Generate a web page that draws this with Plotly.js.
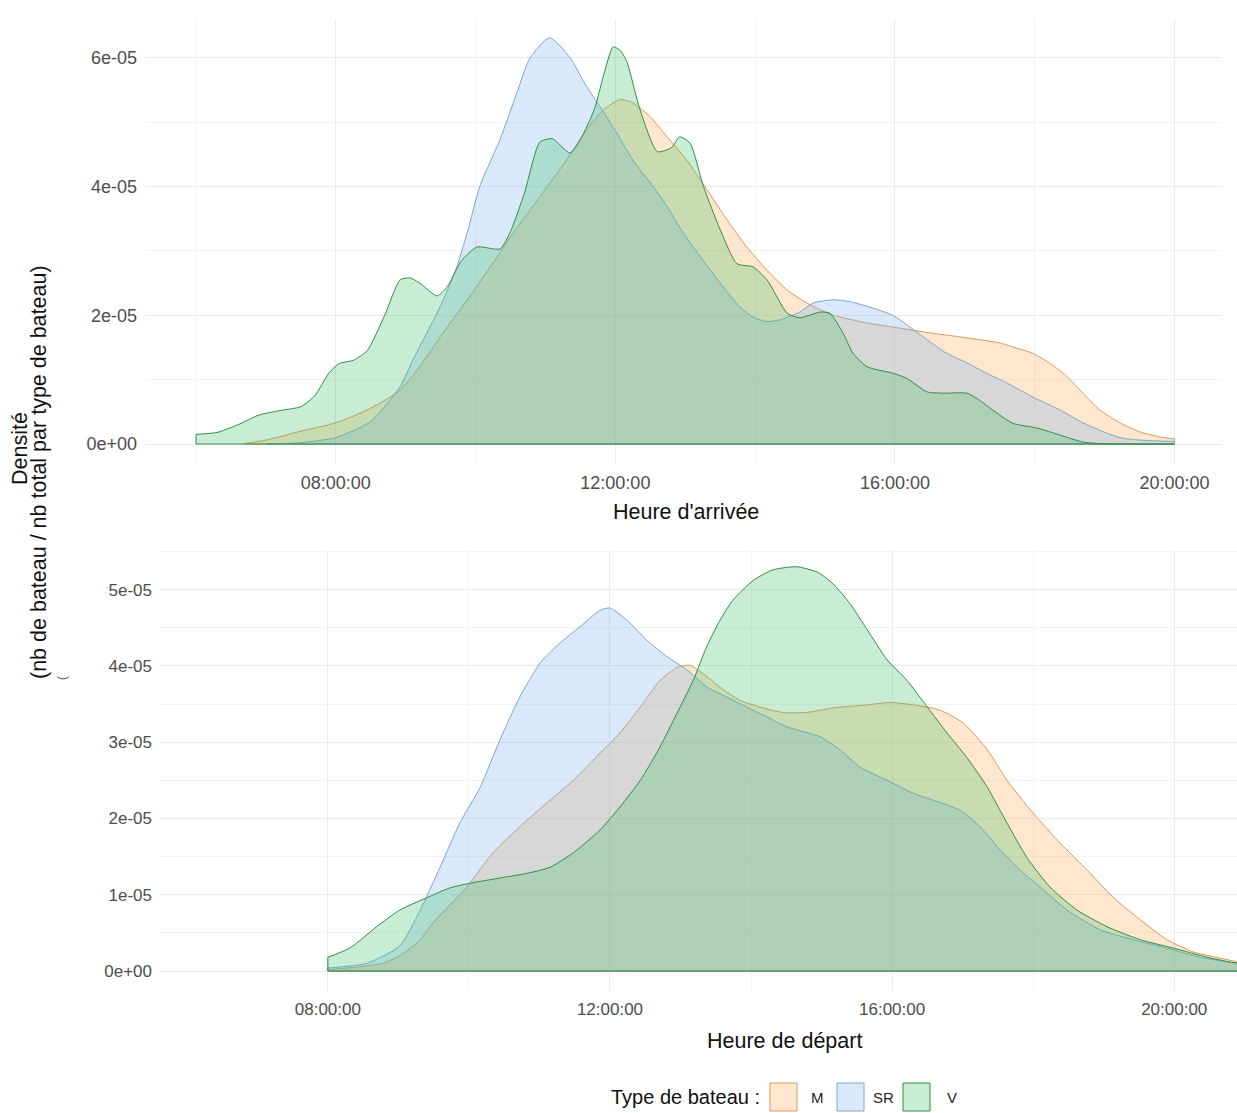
<!DOCTYPE html>
<html>
<head>
<meta charset="utf-8">
<script src="https://cdn.plot.ly/plotly-3.0.1.min.js"></script>
<style>html,body{margin:0;padding:0;background:#fff;}#chart{width:1237px;height:1113px;}</style>
</head>
<body>
<div id="chart"></div>
<script>
// ---------- DATA (hours of day ; density in units of 1e-5) ----------
const boatTypes = ["M", "SR", "V"];

// Heure d'arrivée (top panel)
const arrHours_M = [6.7, 7.0, 7.5, 8.0, 8.45, 8.9, 9.2, 9.53, 9.88, 10.21, 10.54, 10.92, 11.3, 11.59, 11.83, 12.07, 12.25, 12.5, 12.74, 13.02, 13.31, 13.6, 13.88, 14.17, 14.46, 14.74, 15.12, 15.6, 16.07, 16.54, 17.03, 17.5, 17.74, 17.97, 18.21, 18.46, 18.69, 18.93, 19.22, 19.5, 19.79, 20.0];
const arrDens_M  = [0.01, 0.06, 0.2, 0.33, 0.53, 0.82, 1.2, 1.72, 2.24, 2.75, 3.28, 3.84, 4.41, 4.88, 5.19, 5.35, 5.3, 5.08, 4.77, 4.41, 3.95, 3.48, 3.06, 2.7, 2.39, 2.19, 2.0, 1.88, 1.8, 1.72, 1.65, 1.57, 1.49, 1.41, 1.26, 1.05, 0.79, 0.53, 0.33, 0.19, 0.11, 0.08];

const arrHours_SR = [7.0, 7.5, 8.0, 8.5, 8.92, 9.1, 9.3, 9.54, 9.73, 9.88, 10.06, 10.35, 10.59, 10.78, 11.06, 11.35, 11.59, 11.78, 12.02, 12.25, 12.54, 12.74, 12.97, 13.21, 13.5, 13.78, 13.97, 14.17, 14.36, 14.64, 14.83, 15.12, 15.36, 15.69, 15.97, 16.21, 16.46, 16.74, 17.03, 17.31, 17.6, 17.97, 18.36, 18.69, 19.03, 19.22, 19.4, 19.7, 20.0];
const arrDens_SR  = [0.0, 0.02, 0.1, 0.35, 0.89, 1.3, 1.72, 2.24, 2.75, 3.28, 4.0, 4.73, 5.45, 6.0, 6.31, 6.0, 5.55, 5.24, 4.83, 4.41, 4.0, 3.69, 3.28, 2.92, 2.5, 2.13, 1.97, 1.9, 1.93, 2.05, 2.19, 2.24, 2.21, 2.11, 2.0, 1.82, 1.62, 1.41, 1.26, 1.1, 0.95, 0.73, 0.53, 0.33, 0.17, 0.1, 0.07, 0.05, 0.04];

const arrHours_V = [6.0, 6.3, 6.6, 6.9, 7.2, 7.5, 7.7, 7.9, 8.05, 8.25, 8.45, 8.7, 8.92, 9.06, 9.2, 9.45, 9.6, 9.8, 10.02, 10.35, 10.5, 10.7, 10.92, 11.1, 11.35, 11.5, 11.7, 11.85, 11.97, 12.08, 12.17, 12.35, 12.6, 12.8, 12.92, 13.07, 13.26, 13.5, 13.74, 13.97, 14.17, 14.46, 14.64, 14.93, 15.07, 15.26, 15.4, 15.6, 15.97, 16.17, 16.46, 16.69, 17.03, 17.17, 17.46, 17.69, 18.03, 18.36, 18.69, 18.89, 19.1, 20.0];
const arrDens_V  = [0.15, 0.18, 0.3, 0.45, 0.52, 0.58, 0.75, 1.1, 1.25, 1.3, 1.45, 2.0, 2.55, 2.58, 2.5, 2.3, 2.45, 2.85, 3.06, 3.03, 3.3, 3.9, 4.69, 4.74, 4.52, 4.73, 5.2, 5.8, 6.17, 6.1, 5.92, 5.2, 4.54, 4.6, 4.77, 4.67, 4.0, 3.33, 2.8, 2.75, 2.55, 2.03, 1.96, 2.05, 2.03, 1.72, 1.41, 1.2, 1.1, 1.02, 0.81, 0.79, 0.79, 0.71, 0.48, 0.32, 0.25, 0.14, 0.03, 0.01, 0.0, 0.0];

// Heure de départ (bottom panel)
const depHours_M = [8.0, 8.4, 8.78, 9.02, 9.3, 9.49, 9.97, 10.34, 10.72, 11.1, 11.48, 11.86, 12.14, 12.43, 12.71, 12.95, 13.13, 13.32, 13.56, 13.84, 14.13, 14.45, 14.79, 15.16, 15.65, 15.97, 16.3, 16.68, 17.01, 17.35, 17.63, 18.0, 18.38, 18.77, 19.13, 19.52, 19.9, 20.27, 20.65, 20.9, 21.3];
const depDens_M  = [0.02, 0.05, 0.1, 0.2, 0.4, 0.63, 1.1, 1.55, 1.89, 2.2, 2.5, 2.86, 3.12, 3.46, 3.81, 3.98, 4.01, 3.9, 3.72, 3.55, 3.46, 3.39, 3.39, 3.45, 3.49, 3.52, 3.49, 3.42, 3.25, 2.9, 2.5, 2.07, 1.68, 1.32, 0.97, 0.67, 0.41, 0.25, 0.17, 0.12, 0.08];

const depHours_SR = [8.0, 8.55, 9.02, 9.3, 9.59, 9.87, 10.16, 10.44, 10.72, 11.01, 11.29, 11.57, 11.86, 12.0, 12.24, 12.52, 12.81, 13.09, 13.38, 13.66, 13.94, 14.23, 14.51, 14.7, 14.98, 15.26, 15.55, 15.93, 16.3, 16.68, 16.96, 17.25, 17.53, 17.82, 18.1, 18.48, 18.95, 19.42, 19.9, 20.37, 20.9, 21.3];
const depDens_SR  = [0.04, 0.1, 0.33, 0.78, 1.36, 1.94, 2.41, 3.03, 3.59, 4.04, 4.3, 4.51, 4.73, 4.76, 4.6, 4.34, 4.12, 3.95, 3.72, 3.59, 3.46, 3.33, 3.2, 3.15, 3.07, 2.9, 2.67, 2.5, 2.33, 2.21, 2.11, 1.89, 1.59, 1.32, 1.1, 0.8, 0.54, 0.41, 0.3, 0.18, 0.1, 0.06];

const depHours_V = [8.0, 8.31, 8.69, 9.02, 9.4, 9.73, 10.01, 10.44, 10.82, 11.15, 11.48, 11.86, 12.14, 12.43, 12.71, 12.95, 13.18, 13.37, 13.56, 13.74, 14.03, 14.31, 14.65, 14.94, 15.16, 15.4, 15.65, 15.93, 16.21, 16.5, 16.78, 17.06, 17.35, 17.63, 17.91, 18.24, 18.62, 19.05, 19.52, 19.99, 20.47, 20.9, 21.3];
const depDens_V  = [0.18, 0.3, 0.58, 0.8, 0.96, 1.09, 1.15, 1.22, 1.28, 1.36, 1.55, 1.85, 2.15, 2.5, 2.94, 3.38, 3.81, 4.25, 4.6, 4.86, 5.12, 5.26, 5.3, 5.23, 5.08, 4.82, 4.47, 4.08, 3.81, 3.46, 3.12, 2.8, 2.41, 1.94, 1.49, 1.1, 0.8, 0.58, 0.41, 0.3, 0.18, 0.1, 0.06];

const densityUnit = 1e-5;
const yTicksTop = [0, 2e-5, 4e-5, 6e-5];
const yTickTextTop = ["0e+00", "2e-05", "4e-05", "6e-05"];
const yTicksBottom = [0, 1e-5, 2e-5, 3e-5, 4e-5, 5e-5];
const yTickTextBottom = ["0e+00", "1e-05", "2e-05", "3e-05", "4e-05", "5e-05"];
const xMinorTop = [6, 10, 14, 18];
const xMinorBottom = [10, 14, 18];

// ---------- STYLE ----------
const W = 1237, H = 1113;
const FONT = "Liberation Sans, Arial, Helvetica, sans-serif";
const fillColors = {M: "rgba(252,172,95,0.30)", SR: "rgba(118,175,236,0.28)", V: "rgba(62,190,100,0.28)"};
const lineColors = {M: "#d99a5c", SR: "#7fa6cc", V: "#2f8f43"};

const px = x => x / W;
const py = y => 1 - y / H;
const hToDate = h => new Date(Date.UTC(2000, 0, 1) + Math.round(h * 3600000)).toISOString().replace("T", " ").slice(0, 19);

function densityTraces(hours, dens, type, xa, ya) {
  const xs = hours.map(hToDate);
  const ys = dens.map(v => v * densityUnit);
  const n = xs.length;
  const area = {
    type: "scatter", mode: "lines", x: xs, y: ys, xaxis: xa, yaxis: ya,
    fill: "tozeroy", fillcolor: fillColors[type],
    line: {color: lineColors[type], width: 1, shape: "spline", smoothing: 0.6},
    name: type, showlegend: false, hoverinfo: "skip"
  };
  // end edges and baseline of the density outline
  const edges = {
    type: "scatter", mode: "lines", xaxis: xa, yaxis: ya,
    x: [xs[0], xs[0], null, xs[n - 1], xs[n - 1], null, xs[0], xs[n - 1]],
    y: [0, ys[0], null, ys[n - 1], 0, null, 0, 0],
    line: {color: lineColors[type], width: 1}, connectgaps: false,
    showlegend: false, hoverinfo: "skip"
  };
  return [area, edges];
}

const traces = [].concat(
  densityTraces(arrHours_M, arrDens_M, "M", "x", "y"),
  densityTraces(arrHours_SR, arrDens_SR, "SR", "x", "y"),
  densityTraces(arrHours_V, arrDens_V, "V", "x", "y"),
  densityTraces(depHours_M, depDens_M, "M", "x2", "y2"),
  densityTraces(depHours_SR, depDens_SR, "SR", "x2", "y2"),
  densityTraces(depHours_V, depDens_V, "V", "x2", "y2")
);

const gridMajor = "#ebebeb", gridMinor = "#f3f3f3";
function timeAxis(domain, r0, r1, anchor, fsize, minorHours) {
  return {
    type: "date", domain: domain, anchor: anchor,
    range: [hToDate(r0), hToDate(r1)],
    tickmode: "linear", tick0: hToDate(0), dtick: 4 * 3600000,
    tickformat: "%H:%M:%S",
    showgrid: true, gridcolor: gridMajor, gridwidth: 1,
    minor: {tickmode: "array", tickvals: minorHours.map(hToDate), showgrid: true, gridcolor: gridMinor, gridwidth: 1, ticks: ""},
    zeroline: false, showline: false, ticks: "",
    ticklabelstandoff: 6,
    tickfont: {family: FONT, size: fsize, color: "#4d4d4d"},
    fixedrange: true
  };
}
function densAxis(domain, r0, r1, anchor, vals, text, minorStep, fsize) {
  return {
    domain: domain, anchor: anchor, range: [r0, r1],
    tickmode: "array", tickvals: vals, ticktext: text,
    showgrid: true, gridcolor: gridMajor, gridwidth: 1,
    minor: {tickmode: "linear", tick0: 0, dtick: minorStep, showgrid: true, gridcolor: gridMinor, gridwidth: 1, ticks: ""},
    zeroline: false, showline: false, ticks: "",
    ticklabelstandoff: 7,
    tickfont: {family: FONT, size: fsize, color: "#4d4d4d"},
    fixedrange: true
  };
}

const titleFont = {family: FONT, size: 21.5, color: "#111"};
const annotations = [
  {text: "Heure d'arrivée", x: px(686), y: py(512), xref: "paper", yref: "paper", showarrow: false, xanchor: "center", yanchor: "middle", font: titleFont},
  {text: "Heure de départ", x: px(784), y: py(1041), xref: "paper", yref: "paper", showarrow: false, xanchor: "center", yanchor: "middle", font: titleFont},
  {text: "Densité", x: px(20), y: py(449), xref: "paper", yref: "paper", showarrow: false, textangle: -90, xanchor: "center", yanchor: "middle", font: titleFont},
  {text: "(nb de bateau / nb total par type de bateau)", x: px(39), y: py(472), xref: "paper", yref: "paper", showarrow: false, textangle: -90, xanchor: "center", yanchor: "middle", font: titleFont},
  {text: "(", x: px(62), y: py(678), xref: "paper", yref: "paper", showarrow: false, textangle: -90, xanchor: "center", yanchor: "middle", font: {family: FONT, size: 12, color: "#555"}},
  // legend
  {text: "Type de bateau :", x: px(762), y: py(1097), xref: "paper", yref: "paper", showarrow: false, xanchor: "right", yanchor: "middle", font: {family: FONT, size: 20, color: "#111"}}
];
const shapes = [];
const legendBoxes = {M: 770, SR: 837, V: 903};
const legendText = {M: 809, SR: 871, V: 945};
boatTypes.forEach(t => {
  shapes.push({type: "rect", xref: "paper", yref: "paper", x0: px(legendBoxes[t]), x1: px(legendBoxes[t] + 27), y0: py(1111), y1: py(1083),
    fillcolor: fillColors[t], line: {color: lineColors[t], width: 1}});
  annotations.push({text: t, x: px(legendText[t]), y: py(1097), xref: "paper", yref: "paper", showarrow: false, xanchor: "left", yanchor: "middle",
    font: {family: FONT, size: 15, color: "#222"}});
});

const layout = {
  width: W, height: H,
  margin: {l: 0, r: 0, t: 0, b: 0, pad: 0},
  paper_bgcolor: "#ffffff", plot_bgcolor: "#ffffff",
  showlegend: false,
  xaxis: timeAxis([px(145), px(1222)], 5.27, 20.68, "y", 18, xMinorTop),
  yaxis: densAxis([py(464), py(19)], -0.31e-5, 6.6e-5, "x", yTicksTop, yTickTextTop, 1e-5, 18),
  xaxis2: timeAxis([px(160), 1], 5.62, 20.89, "y2", 17, xMinorBottom),
  yaxis2: densAxis([py(991), py(550)], -0.262e-5, 5.52e-5, "x2", yTicksBottom, yTickTextBottom, 0.5e-5, 17),
  annotations: annotations,
  shapes: shapes
};

Plotly.newPlot("chart", traces, layout, {displayModeBar: false, staticPlot: true});
</script>
</body>
</html>
